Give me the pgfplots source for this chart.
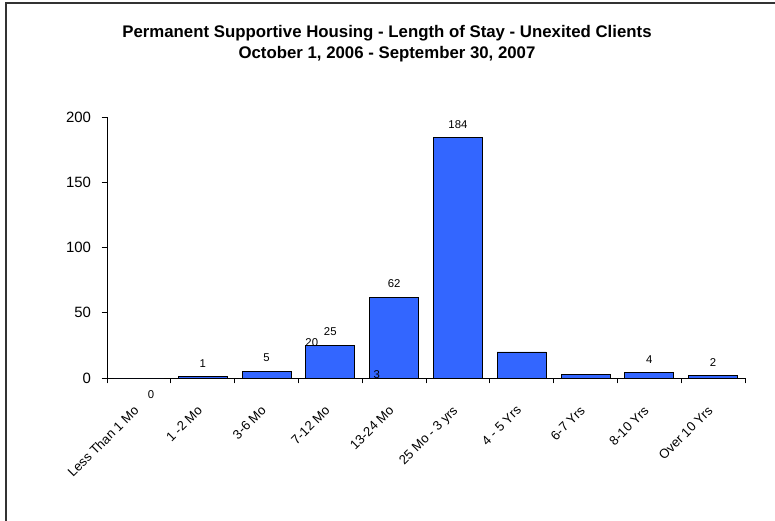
\documentclass[border=0pt]{standalone}
\usepackage{pgfplots}
\pgfplotsset{compat=1.18}
\usepackage{fontspec}
\setmainfont{Liberation Sans}
\definecolor{barblue}{RGB}{51,102,255}
\begin{document}
\begin{tikzpicture}
% page = 775 x 521 px, 1 px = 0.75pt
\useasboundingbox (0,0) rectangle (581.25pt,-390.75pt);
\draw[line width=1.4pt, black!80] (4.5pt,-391pt) -- (4.5pt,-2.25pt) -- (582pt,-2.25pt);
\node[font=\fontsize{12.6}{14}\selectfont\bfseries, align=center] at (290.25pt,-32.5pt)
  {Permanent Supportive Housing - Length of Stay - Unexited Clients\\[2pt]
   October 1, 2006 - September 30, 2007};
\begin{axis}[
    at={(80.25pt,-283.5pt)}, anchor=south west,
    scale only axis,
    width=478.5pt, height=195.75pt,
    xmin=-0.5, xmax=9.5,
    ymin=0, ymax=200,
    ytick={0,50,100,150,200},
    xtick={0,...,9},
    xticklabels={Less Than 1 Mo, 1 -2 Mo, 3-6 Mo, 7-12 Mo, 13-24 Mo,
                 25 Mo - 3 yrs, 4 - 5 Yrs, 6-7 Yrs, 8-10 Yrs, Over 10 Yrs},
    minor xtick={-0.5,0.5,...,9.5},
    major x tick style={draw=none},
    axis x line*=bottom, axis y line*=left,
    axis line style={-, black, line width=0.6pt},
    tick align=outside,
    major tick length=4pt, minor tick length=4pt,
    tick style={black, line width=0.6pt},
    yticklabel style={font=\fontsize{11.2}{13}\selectfont, xshift=-4.5pt},
    xticklabel style={font=\fontsize{9.8}{11}\selectfont, rotate=45, anchor=north east,
                      inner sep=1pt, xshift=-13.5pt, yshift=-7pt},
    /pgf/number format/assume math mode=true,
    ybar, bar width=36.75pt, bar shift=0pt,
    nodes near coords style={font=\fontsize{8.5}{10}\selectfont, yshift=3.5pt},
    clip=false,
]
\addplot[fill=barblue, draw=black, line width=0.6pt] coordinates {
  (0,0) (1,1) (2,5) (3,25) (4,62) (5,184) (6,20) (7,3) (8,4) (9,2)};
\addplot[draw=none, fill=none, nodes near coords] coordinates {
  (1,1) (2,5) (3,25) (4,62) (5,184) (8,4) (9,2)};
% labels that sit out of place in the original
\node[font=\fontsize{8.5}{10}\selectfont] at (axis cs:0.19,-13) {0};
\node[font=\fontsize{8.5}{10}\selectfont] at (axis cs:2.71,27) {20};
\node[font=\fontsize{8.5}{10}\selectfont] at (axis cs:3.73,2.3) {3};
\end{axis}
\end{tikzpicture}
\end{document}
